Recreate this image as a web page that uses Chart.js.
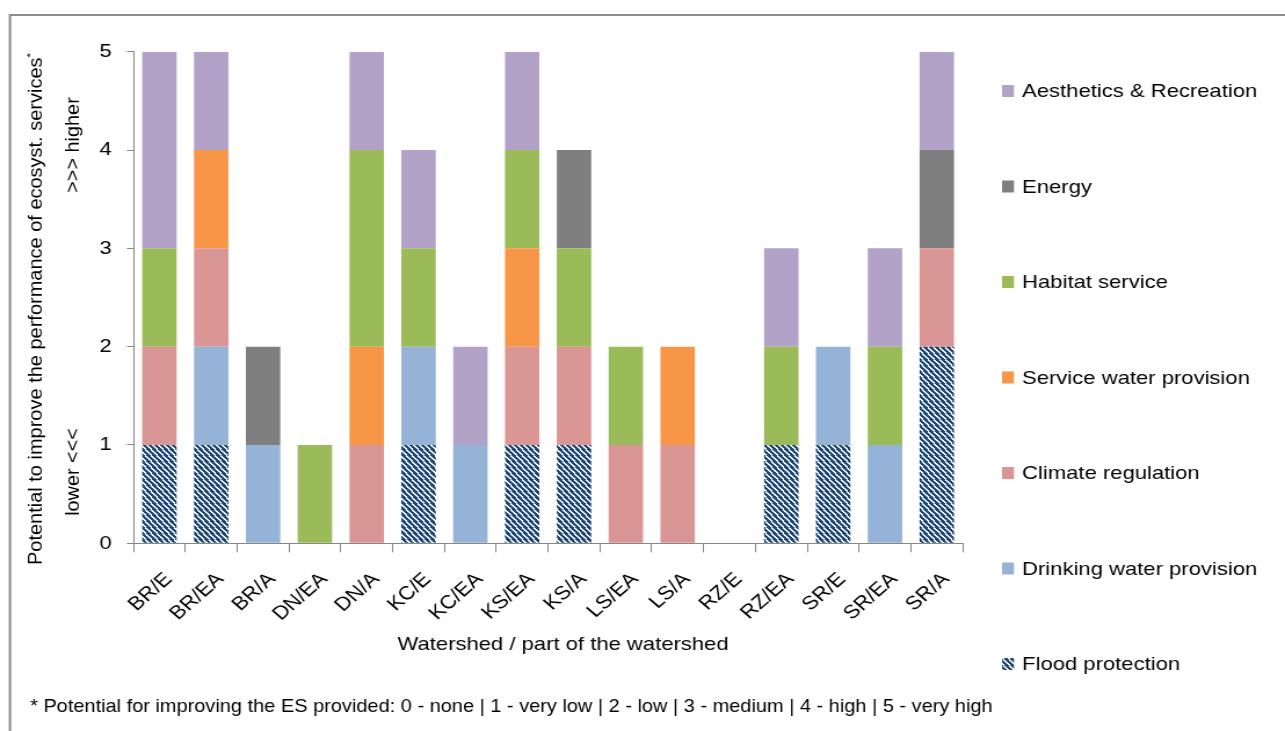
<!DOCTYPE html>
<html><head><meta charset="utf-8">
<script src="https://cdn.jsdelivr.net/npm/chart.js@4/dist/chart.umd.min.js"></script>
<style>html,body{margin:0;padding:0;background:#fff;overflow:hidden}</style>
</head><body>
<canvas id="c" width="1108" height="731" style="display:block;width:1285px;height:731px"></canvas>
<script>
// ---- data ----
const categories = ['BR/E','BR/EA','BR/A','DN/EA','DN/A','KC/E','KC/EA','KS/EA','KS/A','LS/EA','LS/A','RZ/E','RZ/EA','SR/E','SR/EA','SR/A'];
const floodProtection        = [1,1,0,0,0,1,0,1,1,0,0,0,1,1,0,2];
const drinkingWaterProvision = [0,1,1,0,0,1,1,0,0,0,0,0,0,1,1,0];
const climateRegulation      = [1,1,0,0,1,0,0,1,1,1,1,0,0,0,0,1];
const serviceWaterProvision  = [0,1,0,0,1,0,0,1,0,0,1,0,0,0,0,0];
const habitatService         = [1,0,0,1,2,1,0,1,1,1,0,0,1,0,1,0];
const energy                 = [0,0,1,0,0,0,0,0,1,0,0,0,0,0,0,1];
const aestheticsRecreation   = [2,1,0,0,1,1,1,1,0,0,0,0,1,0,1,1];
const seriesNames = ['Flood protection','Drinking water provision','Climate regulation','Service water provision','Habitat service','Energy','Aesthetics & Recreation'];
const yTickValues = [0,1,2,3,4,5];
const yTitle = 'Potential to improve the performance of ecosyst. services';
const yTitleLow = 'lower <<<';
const yTitleHigh = '>>> higher';
const xTitle = 'Watershed / part of the watershed';
const footnote = '* Potential for improving the ES provided: 0 - none | 1 - very low | 2 - low | 3 - medium | 4 - high | 5 - very high';

// ---- styling ----
const SX = 1285/1108;           // horizontal stretch of the canvas (wide glyphs as in reference)
const FONT = "'Liberation Sans', Arial, sans-serif";
const FS = 19;
const AXIS_GREY = '#868686';

const canvas = document.getElementById('c');
const ctx0 = canvas.getContext('2d');

function makeHatch(){
  const w=5,h=6;
  const c=document.createElement('canvas'); c.width=w; c.height=h;
  const x=c.getContext('2d');
  const img=x.createImageData(w,h);
  for(let py=0;py<h;py++){for(let px=0;px<w;px++){
    let t=((px+0.5)/w-(py+0.5)/h)%1; if(t<0)t+=1;
    const white=t<0.36;
    const i=(py*w+px)*4;
    img.data[i]=white?255:31; img.data[i+1]=white?255:73; img.data[i+2]=white?255:125; img.data[i+3]=255;
  }}
  x.putImageData(img,0,0);
  return ctx0.createPattern(c,'repeat');
}
const hatch = makeHatch();
const colors = [hatch,'#95B3D7','#D99694','#F79646','#9BBB59','#7F7F7F','#B3A2C7'];
const seriesData = [floodProtection,drinkingWaterProvision,climateRegulation,serviceWaterProvision,habitatService,energy,aestheticsRecreation];

const datasets = seriesNames.map((n,i)=>({
  label:n, data:seriesData[i], backgroundColor:colors[i], borderWidth:0,
  barPercentage:0.664, categoryPercentage:1.0, stack:'s'
}));

const decor = {
  id:'decor',
  beforeDraw(chart){
    const c=chart.ctx; c.save(); c.fillStyle='#fff'; c.fillRect(0,0,chart.width,chart.height); c.restore();
  },
  afterDraw(chart){
    const c=chart.ctx;
    c.save();
    // outer frame
    c.strokeStyle='#8c8c8c'; c.lineWidth=2;
    c.beginPath(); c.moveTo(8.6,760); c.lineTo(8.6,15); c.lineTo(1200,15); c.stroke();

    c.fillStyle='#000';
    // y title (rotated), keep glyphs un-stretched
    const midY = 309;
    c.save();
    c.translate(31.5, midY);
    c.scale(1/SX,1);
    c.rotate(-Math.PI/2);
    c.font = FS+'px '+FONT;
    const wMain = c.measureText(yTitle).width;
    c.font = Math.round(FS*0.6)+'px '+FONT;
    const wStar = c.measureText('*').width;
    const total = wMain+wStar;
    const k = 512/total;
    c.scale(k,1);
    c.textBaseline='middle'; c.textAlign='left';
    c.font = FS+'px '+FONT;
    c.fillText(yTitle,-total/2,0);
    c.font = Math.round(FS*0.6)+'px '+FONT;
    c.fillText('*',-total/2+wMain,-6);
    c.restore();

    // second line of y title
    c.save();
    c.translate(63, 0);
    c.scale(1/SX,1);
    c.rotate(-Math.PI/2);
    c.font = FS+'px '+FONT;
    c.textBaseline='middle'; c.textAlign='center';
    c.save(); c.translate(-472,0); c.scale(1.045,1); c.fillText(yTitleLow,0,0); c.restore();
    c.save(); c.translate(-145,0); c.scale(1.045,1); c.fillText(yTitleHigh,0,0); c.restore();
    c.restore();

    // x title
    c.font = FS+'px '+FONT;
    c.textAlign='center'; c.textBaseline='middle';
    c.fillText(xTitle, 485.5, 645);

    // legend (reverse order)
    c.textAlign='left';
    const n=chart.data.datasets.length;
    for(let i=0;i<n;i++){
      const ds=chart.data.datasets[n-1-i];
      const y=91+i*95.5;
      c.fillStyle=ds.backgroundColor;
      c.fillRect(864,y-6,10.3,12);
      c.fillStyle='#000';
      c.fillText(ds.label,881.3,y+1);
    }

    // footnote
    c.save();
    c.font = FS+'px '+FONT;
    const wf=c.measureText(footnote).width;
    c.translate(25.9,707);
    c.scale(830/wf,1);
    c.textAlign='left'; c.textBaseline='middle';
    c.fillText(footnote,0,0);
    c.restore();

    c.restore();
  }
};

new Chart(canvas,{
  type:'bar',
  data:{labels:categories, datasets},
  options:{
    responsive:false, animation:false, devicePixelRatio:1,
    layout:{padding:{left:55.1,right:277.9,top:51.7,bottom:87.7}},
    plugins:{legend:{display:false},tooltip:{enabled:false},title:{display:false}},
    scales:{
      x:{
        stacked:true,
        grid:{offset:true,drawOnChartArea:false,tickLength:9,color:AXIS_GREY,lineWidth:1},
        border:{color:AXIS_GREY,width:1},
        ticks:{font:{family:FONT,size:FS},color:'#000',minRotation:45,maxRotation:45,padding:16,labelOffset:8,autoSkip:false},
        afterFit(s){s.height=100;}
      },
      y:{
        stacked:true, min:0, max:5,
        afterBuildTicks(s){s.ticks=yTickValues.map(v=>({value:v}));},
        grid:{drawOnChartArea:false,tickLength:5.6,color:AXIS_GREY,lineWidth:1},
        border:{color:AXIS_GREY,width:1},
        ticks:{font:{family:FONT,size:FS},color:'#000',padding:13.2},
        afterFit(s){s.width=60;}
      }
    }
  },
  plugins:[decor]
});
canvas.style.width='1285px';
canvas.style.height='731px';
</script>
</body></html>
